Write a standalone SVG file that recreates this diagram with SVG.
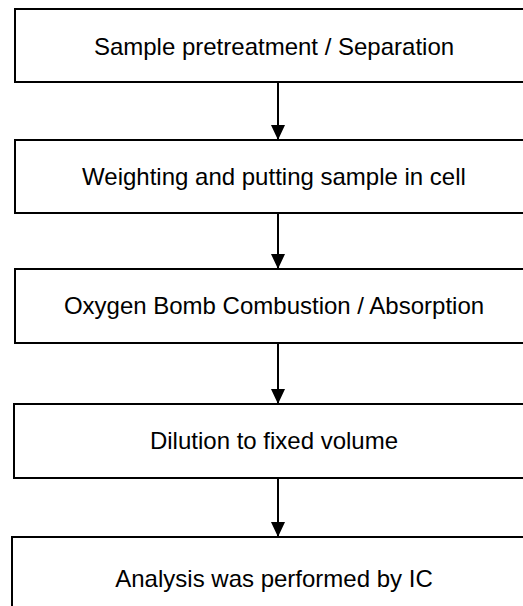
<svg xmlns="http://www.w3.org/2000/svg" width="523" height="606" viewBox="0 0 523 606">
<style>
.box{fill:#fff;stroke:#000;stroke-width:2}
.lbl{font-family:"Liberation Sans",Arial,sans-serif;font-size:24px;fill:#000;text-anchor:middle}
.con{stroke:#000;stroke-width:2;fill:none}
</style>
<defs>
<marker id="ah" markerUnits="userSpaceOnUse" markerWidth="16" markerHeight="15" refX="15" refY="7" orient="auto">
<path d="M0,0 L15,7 L0,14 z" fill="#000"/>
</marker>
</defs>
<rect width="523" height="606" fill="#fff"/>
<g id="n1"><rect class="box" x="15" y="9" width="520" height="73"/><text class="lbl" x="274" y="55">Sample pretreatment / Separation</text></g>
<g id="n2"><rect class="box" x="15" y="140" width="520" height="73"/><text class="lbl" x="274" y="185">Weighting and putting sample in cell</text></g>
<g id="n3"><rect class="box" x="15" y="269" width="520" height="74"/><text class="lbl" x="274" y="314">Oxygen Bomb Combustion / Absorption</text></g>
<g id="n4"><rect class="box" x="14" y="404" width="520" height="74"/><text class="lbl" x="274" y="449">Dilution to fixed volume</text></g>
<g id="n5"><rect class="box" x="12" y="537" width="524" height="90"/><text class="lbl" x="274" y="587">Analysis was performed by IC</text></g>
<g id="connectors">
<line class="con" x1="278" y1="82" x2="278" y2="140" marker-end="url(#ah)"/>
<line class="con" x1="278" y1="213" x2="278" y2="269" marker-end="url(#ah)"/>
<line class="con" x1="278" y1="343" x2="278" y2="404" marker-end="url(#ah)"/>
<line class="con" x1="278" y1="478" x2="278" y2="537" marker-end="url(#ah)"/>
</g>
</svg>
